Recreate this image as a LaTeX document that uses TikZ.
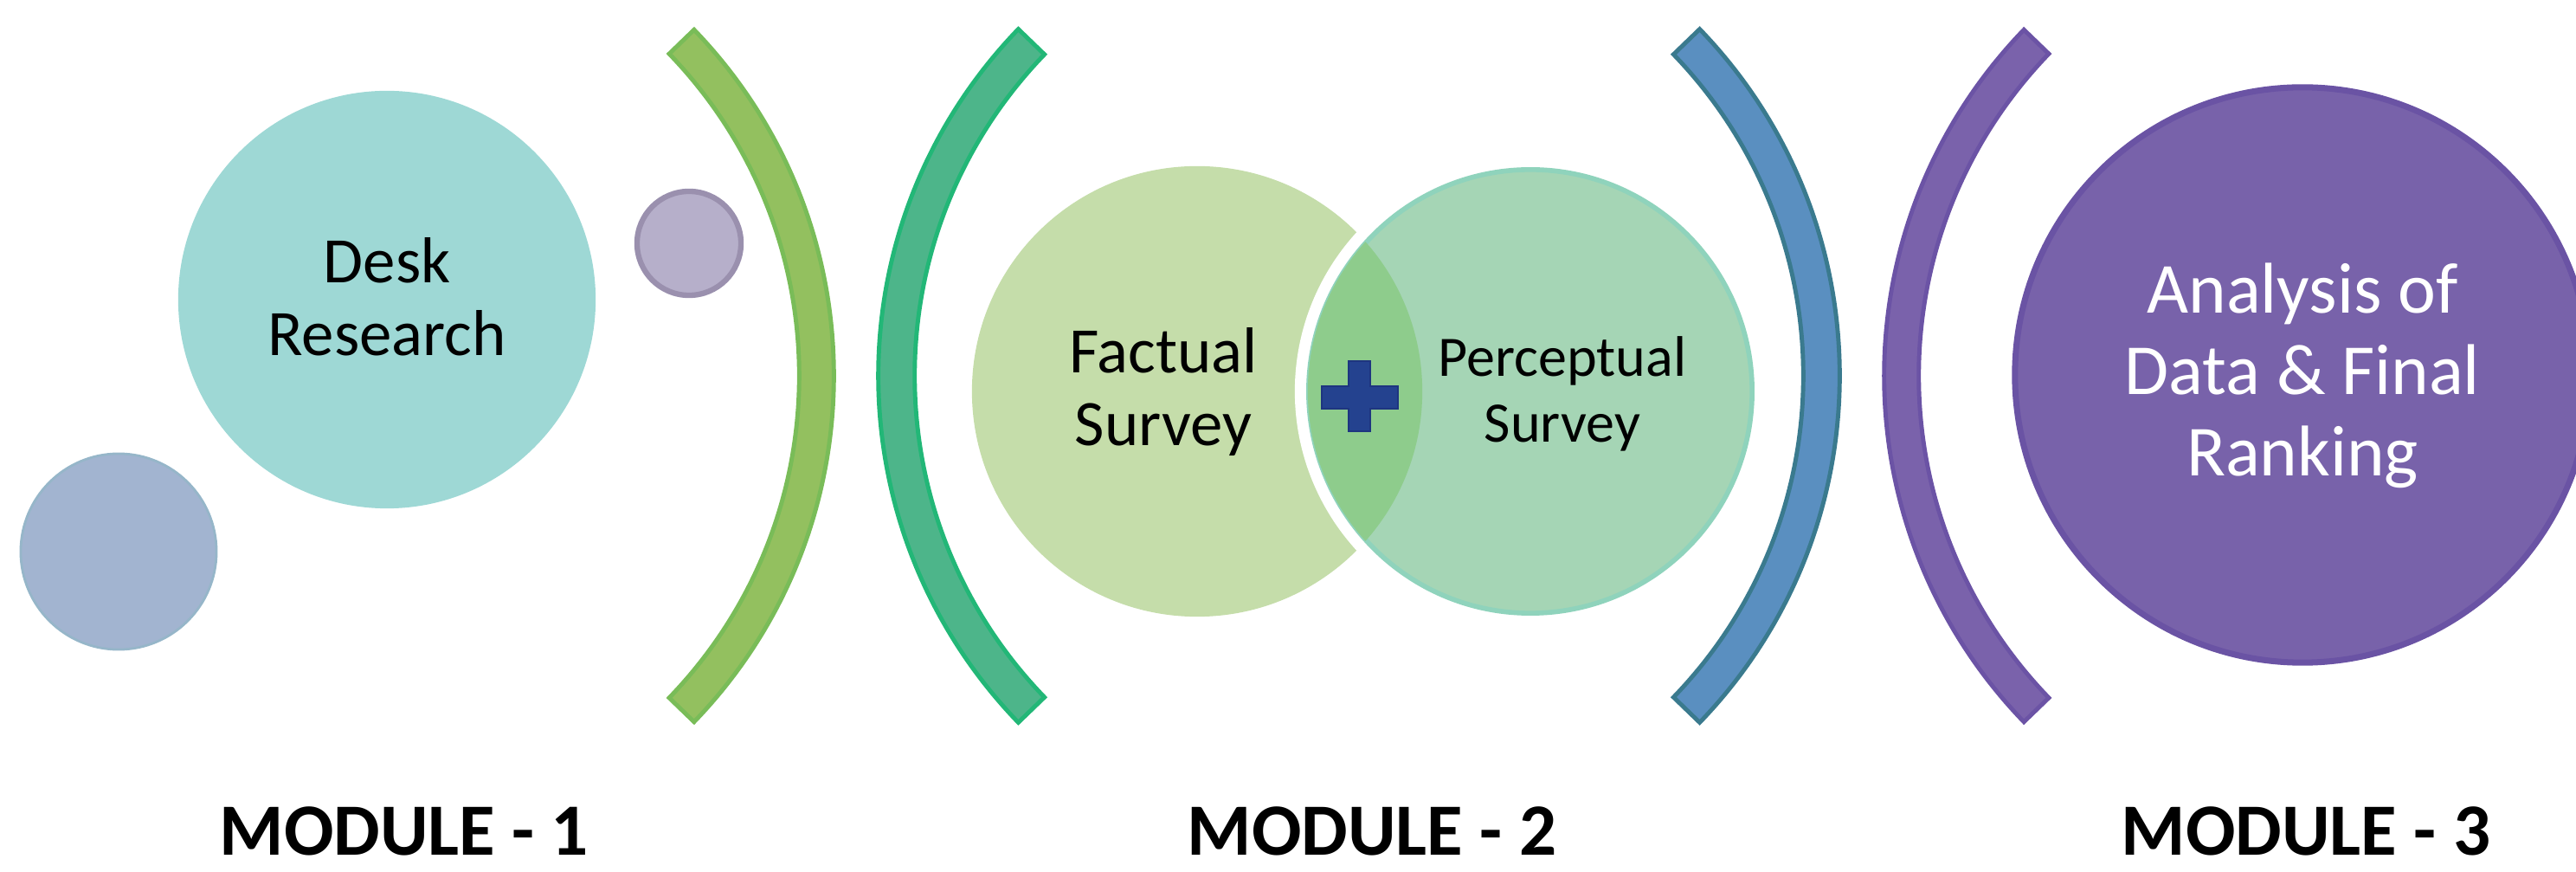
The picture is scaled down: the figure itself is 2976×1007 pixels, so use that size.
\documentclass[tikz,border=0pt]{standalone}
\usepackage{fontspec}
\setmainfont{Carlito}
\definecolor{deskc}{HTML}{9ED8D5}
\definecolor{smallblue}{HTML}{A2B4D0}
\definecolor{smallblueE}{HTML}{96B6C9}
\definecolor{smallpurp}{HTML}{B6AFCA}
\definecolor{smallpurpE}{HTML}{9A90AE}
\definecolor{arcAf}{HTML}{93C05F}
\definecolor{arcAe}{HTML}{79BC58}
\definecolor{arcBf}{HTML}{4DB58A}
\definecolor{arcBe}{HTML}{22B777}
\definecolor{arcCf}{HTML}{5A8FC0}
\definecolor{arcCe}{HTML}{3A7A8E}
\definecolor{arcDf}{HTML}{7A62AB}
\definecolor{arcDe}{HTML}{6B53A5}
\definecolor{bigpurp}{HTML}{7862AA}
\definecolor{bigpurpE}{HTML}{6A53A4}
\definecolor{factc}{HTML}{C5DDAA}
\definecolor{percc}{HTML}{A5D5B5}
\definecolor{percE}{HTML}{8FD3BC}
\definecolor{overc}{HTML}{8ECC8C}
\definecolor{plusc}{HTML}{24428F}
\definecolor{plusE}{HTML}{1E3580}
\begin{document}
\begin{tikzpicture}[x=0.01cm,y=0.01cm,
  arcshape/.style={line width=1.4pt, line join=miter},
  txt/.style={inner sep=0pt, align=center},
  modlabel/.style={inner sep=0pt, anchor=base, font=\bfseries\fontsize{24.2pt}{28pt}\selectfont}]
\useasboundingbox (0,0) rectangle (2976,-1007);
% circles of module 1
\node[circle, inner sep=0pt, minimum size=4.82cm, fill=deskc] (desk) at (447,-346) {};
\node[circle, inner sep=0pt, minimum size=2.26cm, fill=smallblue, draw=smallblueE, line width=0.8pt] (sblue) at (137,-637) {};
\node[circle, inner sep=0pt, minimum size=1.20cm, fill=smallpurp, draw=smallpurpE, line width=1.8pt] (spurp) at (796,-281) {};
\node[txt, font=\fontsize{21.3pt}{23.9pt}\selectfont] (desktxt) at (447,-343) {Desk\\Research};
% arcs
\coordinate (c1) at (388,-434);
\coordinate (c2) at (1591,-434);
\coordinate (c3) at (1549,-434);
\coordinate (c4) at (2752,-434);
\filldraw[arcshape, fill=arcAf, draw=arcAe] ([shift={(-44:5.75cm)}]c1) arc[start angle=-44, end angle=44, radius=5.75cm] -- ++(224:0.40cm) arc[start angle=44, end angle=-44, radius=5.35cm] -- cycle;
\filldraw[arcshape, fill=arcBf, draw=arcBe] ([shift={(136:5.76cm)}]c2) arc[start angle=136, end angle=224, radius=5.76cm] -- ++(44:0.42cm) arc[start angle=224, end angle=136, radius=5.34cm] -- cycle;
\filldraw[arcshape, fill=arcCf, draw=arcCe] ([shift={(-44:5.76cm)}]c3) arc[start angle=-44, end angle=44, radius=5.76cm] -- ++(224:0.42cm) arc[start angle=44, end angle=-44, radius=5.34cm] -- cycle;
\filldraw[arcshape, fill=arcDf, draw=arcDe] ([shift={(136:5.75cm)}]c4) arc[start angle=136, end angle=224, radius=5.75cm] -- ++(44:0.40cm) arc[start angle=224, end angle=136, radius=5.35cm] -- cycle;
% module 2 venn
\coordinate (fc) at (1383,-452);
\coordinate (pc) at (1768,-452);
\node[circle, inner sep=0pt, minimum size=5.20cm, fill=factc] (fact) at (fc) {};
\fill[white] (pc) circle (2.72cm);
\node[circle, inner sep=0pt, minimum size=5.12cm, fill=percc, draw=percE, line width=1.6pt] (perc) at (pc) {};
\begin{scope}
  \clip (fc) circle (2.60cm);
  \fill[overc] (pc) circle (2.57cm);
\end{scope}
\filldraw[fill=plusc, draw=plusE, line width=0.8pt] (1558,-417) -- (1583,-417) -- (1583,-446) -- (1615,-446) -- (1615,-472) -- (1583,-472) -- (1583,-498) -- (1558,-498) -- (1558,-472) -- (1527,-472) -- (1527,-446) -- (1558,-446) -- cycle;
\node[txt, font=\fontsize{21.3pt}{23.9pt}\selectfont] (facttxt) at (1344,-453) {Factual\\Survey};
\node[txt, font=\fontsize{18.8pt}{21.6pt}\selectfont] (perctxt) at (1805,-455) {Perceptual\\Survey};
% module 3
\node[circle, inner sep=0pt, minimum size=6.64cm, fill=bigpurp, draw=bigpurpE, line width=2pt] (anal) at (2660,-433) {};
\node[txt, text=white, font=\fontsize{23.6pt}{26.7pt}\selectfont] (analtxt) at (2660,-434) {Analysis of\\Data \& Final\\Ranking};
% labels
\node[modlabel] (m1) at (467,-988) {MODULE - 1};
\node[modlabel] (m2) at (1585,-988) {MODULE - 2};
\node[modlabel] (m3) at (2664,-988) {MODULE - 3};
\end{tikzpicture}
\end{document}
